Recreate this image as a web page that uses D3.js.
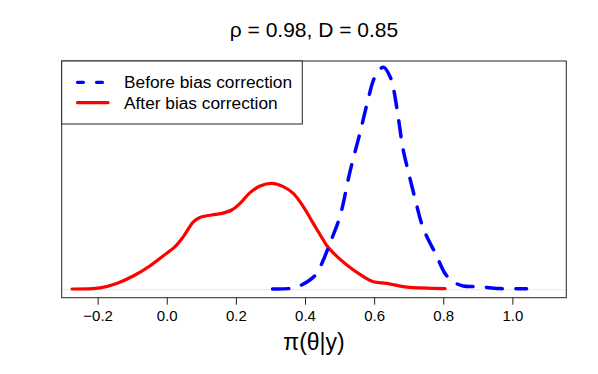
<!DOCTYPE html>
<html>
<head>
<meta charset="utf-8">
<script src="https://cdn.jsdelivr.net/npm/d3@7"></script>
<style>
  body { margin: 0; background: #fff; }
  text { font-family: "Liberation Sans", Arial, sans-serif; fill: #000; }
</style>
</head>
<body>
<div id="chart"></div>
<script>
// Posterior density before bias correction (blue dashed)
let beforeX = [0.306, 0.361, 0.390, 0.414, 0.434, 0.453, 0.472, 0.501, 0.530, 0.559, 0.580, 0.598,
    0.612, 0.628, 0.646, 0.655, 0.670, 0.684, 0.699, 0.718, 0.742, 0.781, 0.805, 0.829, 0.858, 0.887, 0.926, 0.964, 1.041];
let beforeY = [0, 0.018, 0.10, 0.225, 0.39, 0.725, 1.14, 1.81, 2.93, 3.9, 4.65, 5.22,
    5.46, 5.54, 5.31, 5.05, 4.28, 3.48, 2.93, 2.27, 1.52, 0.825, 0.39, 0.18, 0.075, 0.06, 0.04, 0.01, 0.0075];

// Posterior density after bias correction (red solid)
let afterX = [-0.274, -0.193, -0.145, -0.097, -0.049, -0.010, 0.024, 0.048, 0.077, 0.096, 0.130, 0.159,
    0.188, 0.212, 0.241, 0.270, 0.304, 0.337, 0.366, 0.395, 0.424, 0.453, 0.467, 0.521, 0.569, 0.598,
    0.636, 0.684, 0.704, 0.805];
let afterY = [0, 0.03, 0.14, 0.325, 0.575, 0.83, 1.06, 1.31, 1.68, 1.79, 1.85, 1.89,
    1.975, 2.14, 2.41, 2.575, 2.64, 2.56, 2.39, 2.06, 1.64, 1.225, 1.04, 0.60, 0.31, 0.18,
    0.14, 0.06, 0.04, 0.01];

let xTicks = [-0.2, 0.0, 0.2, 0.4, 0.6, 0.8, 1.0];
let legendLabels = ['Before bias correction', 'After bias correction'];
let titleText = 'ρ = 0.98, D = 0.85';
let xLabel = 'π(θ|y)';

let width = 598;
let height = 374;
let margin = { top: 61, right: 31.7, bottom: 76.3, left: 61.7 };

let svg = d3.select('#chart')
    .append('svg')
    .attr('width', width)
    .attr('height', height);

let x = d3.scaleLinear()
    .domain([-0.304, 1.156])
    .range([margin.left, width - margin.right]);

let y = d3.scaleLinear()
    .domain([-0.2175, 5.7])
    .range([height - margin.bottom, margin.top]);

// zero line
svg.append('line')
    .attr('x1', x.range()[0]).attr('x2', x.range()[1])
    .attr('y1', y(0) + 0.7).attr('y2', y(0) + 0.7)
    .style('stroke', '#ebebeb')
    .style('stroke-width', 1);

let line = d3.line()
    .x(d => x(d[0]))
    .y(d => y(d[1]))
    .curve(d3.curveCatmullRom.alpha(0.5));

let afterData = afterX.map((v, i) => [v, afterY[i]]);
let beforeData = beforeX.map((v, i) => [v, beforeY[i]]);

svg.append('path')
    .datum(afterData)
    .attr('d', line)
    .style('fill', 'none')
    .style('stroke', '#ff0000')
    .style('stroke-width', 3.2)
    .style('stroke-linecap', 'round')
    .style('stroke-linejoin', 'round');

svg.append('path')
    .datum(beforeData)
    .attr('d', line)
    .style('fill', 'none')
    .style('stroke', '#0000ff')
    .style('stroke-width', 3.5)
    .style('stroke-dasharray', '16,13.5')
    .style('stroke-linecap', 'round')
    .style('stroke-linejoin', 'round');

// plot frame
svg.append('rect')
    .attr('x', x.range()[0]).attr('y', y.range()[1])
    .attr('width', x.range()[1] - x.range()[0])
    .attr('height', y.range()[0] - y.range()[1])
    .style('fill', 'none')
    .style('stroke', '#222')
    .style('stroke-width', 1);

// x axis
let xAxis = svg.append('g')
    .attr('transform', `translate(0,${y.range()[0]})`)
    .call(d3.axisBottom(x).tickValues(xTicks).tickSize(7).tickPadding(6)
        .tickFormat(d => d3.format('.1f')(d).replace('-', '\u2212')));
xAxis.select('.domain').remove();
xAxis.selectAll('line').style('stroke', '#222');
xAxis.selectAll('text')
    .style('font-size', '15px')
    .style('font-family', '"Liberation Sans", Arial, sans-serif');

svg.append('text')
    .text(xLabel)
    .attr('x', (x.range()[0] + x.range()[1]) / 2)
    .attr('y', 350)
    .attr('text-anchor', 'middle')
    .style('font-size', '23px');

svg.append('text')
    .text(titleText)
    .attr('x', (x.range()[0] + x.range()[1]) / 2)
    .attr('y', 37.3)
    .attr('text-anchor', 'middle')
    .style('font-size', '21px');

// legend
let legend = svg.append('g');
legend.append('rect')
    .attr('x', x.range()[0]).attr('y', y.range()[1])
    .attr('width', 302.3 - x.range()[0])
    .attr('height', 124 - y.range()[1])
    .style('fill', '#fff')
    .style('stroke', '#222')
    .style('stroke-width', 1);

let legendRows = [
    { label: legendLabels[0], color: '#0000ff', dash: '6,13' },
    { label: legendLabels[1], color: '#ff0000', dash: null }
];

legendRows.forEach((r, i) => {
    let ly = 82.3 + i * 20.4;
    legend.append('line')
        .attr('x1', 77.5).attr('x2', 108)
        .attr('y1', ly).attr('y2', ly)
        .style('stroke', r.color)
        .style('stroke-width', 3.2)
        .style('stroke-linecap', 'round')
        .style('stroke-dasharray', r.dash);
    legend.append('text')
        .text(r.label)
        .attr('x', 124)
        .attr('y', ly + 6)
        .style('font-size', '17.3px');
});
</script>
</body>
</html>
